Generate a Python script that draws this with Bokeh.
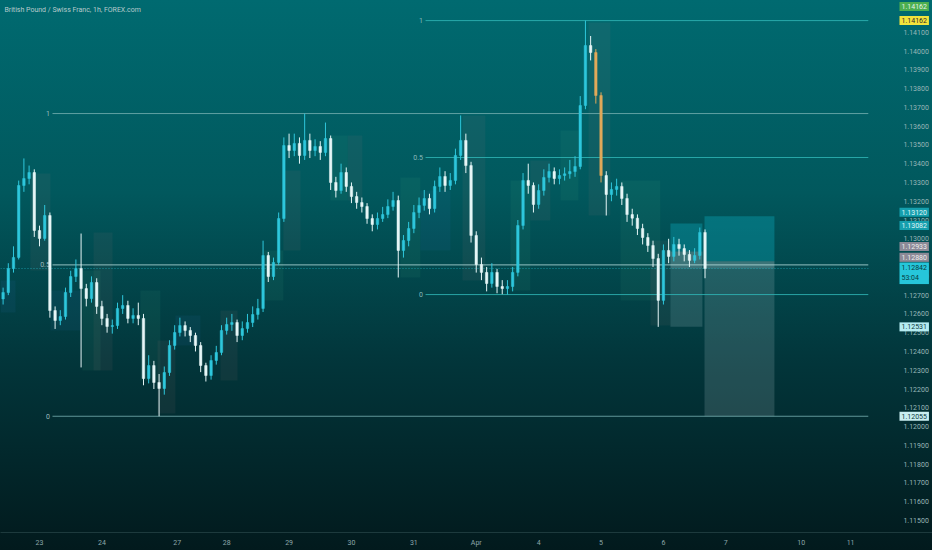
from bokeh.plotting import figure
from bokeh.models import ColumnDataSource, Label, FixedTicker
from bokeh.core.properties import value
from bokeh.embed import file_html
from bokeh.resources import INLINE

# ---------------- data ----------------
title_text = "British Pound / Swiss Franc, 1h, FOREX.com"

first_open = 1.12680
closes = [1.12714, 1.12842, 1.12901, 1.13284, 1.13321, 1.13353, 1.13044, 1.13002, 1.13124, 1.12618,
          1.12565, 1.12586, 1.12714, 1.12799, 1.12842, 1.12735, 1.12682, 1.12767, 1.12640, 1.12576,
          1.12533, 1.12538, 1.12629, 1.12645, 1.12576, 1.12592, 1.12576, 1.12256, 1.12325, 1.12235,
          1.12203, 1.12288, 1.12432, 1.12501, 1.12538, 1.12512, 1.12485, 1.12432, 1.12325, 1.12272,
          1.12352, 1.12395, 1.12512, 1.12544, 1.12554, 1.12485, 1.12522, 1.12554, 1.12597, 1.12629,
          1.12911, 1.12799, 1.12874, 1.13108, 1.13497, 1.13470, 1.13508, 1.13444, 1.13524, 1.13470,
          1.13492, 1.13460, 1.13534, 1.13300, 1.13257, 1.13353, 1.13279, 1.13225, 1.13193, 1.13172,
          1.13108, 1.13076, 1.13108, 1.13129, 1.13172, 1.13204, 1.12938, 1.12991, 1.13055, 1.13140,
          1.13178, 1.13215, 1.13161, 1.13279, 1.13332, 1.13284, 1.13311, 1.13444, 1.13524, 1.13390,
          1.13018, 1.12863, 1.12821, 1.12762, 1.12821, 1.12746, 1.12735, 1.12746, 1.12821, 1.13071,
          1.13311, 1.13284, 1.13183, 1.13257, 1.13327, 1.13358, 1.13321, 1.13337, 1.13346, 1.13358,
          1.13385, 1.13710, 1.14029, 1.13992, 1.13763, 1.13337, 1.13236, 1.13263, 1.13279, 1.13215,
          1.13129, 1.13110, 1.13055, 1.13007, 1.12964, 1.12895, 1.12672, 1.12938, 1.12906, 1.12970,
          1.12948, 1.12916, 1.12885, 1.12911, 1.13034, 1.12842]
highs = [1.12740, 1.12870, 1.12960, 1.13310, 1.13428, 1.13390, 1.13370, 1.13070, 1.13180, 1.13140,
         1.12640, 1.12620, 1.12740, 1.12830, 1.12890, 1.13028, 1.12760, 1.12800, 1.12790, 1.12670,
         1.12600, 1.12570, 1.12660, 1.12700, 1.12670, 1.12630, 1.12660, 1.12600, 1.12380, 1.12350,
         1.12280, 1.12320, 1.12460, 1.12540, 1.12580, 1.12560, 1.12530, 1.12500, 1.12450, 1.12340,
         1.12380, 1.12430, 1.12540, 1.12580, 1.12600, 1.12570, 1.12560, 1.12600, 1.12640, 1.12680,
         1.12990, 1.12930, 1.12900, 1.13140, 1.13540, 1.13560, 1.13560, 1.13540, 1.13667, 1.13560,
         1.13530, 1.13520, 1.13619, 1.13550, 1.13330, 1.13400, 1.13380, 1.13300, 1.13250, 1.13220,
         1.13190, 1.13130, 1.13140, 1.13170, 1.13210, 1.13250, 1.13230, 1.13020, 1.13090, 1.13180,
         1.13220, 1.13260, 1.13240, 1.13310, 1.13380, 1.13360, 1.13350, 1.13480, 1.13657, 1.13560,
         1.13410, 1.13040, 1.12900, 1.12850, 1.12870, 1.12840, 1.12780, 1.12780, 1.12850, 1.13100,
         1.13350, 1.13400, 1.13300, 1.13290, 1.13370, 1.13400, 1.13380, 1.13370, 1.13380, 1.13420,
         1.13440, 1.13760, 1.14162, 1.14080, 1.14010, 1.13780, 1.13360, 1.13300, 1.13320, 1.13300,
         1.13240, 1.13160, 1.13130, 1.13080, 1.13030, 1.12990, 1.12920, 1.12970, 1.13000, 1.13010,
         1.13000, 1.12970, 1.12940, 1.12950, 1.13060, 1.13050]
lows = [1.12650, 1.12700, 1.12820, 1.12890, 1.13250, 1.13290, 1.13010, 1.12960, 1.12990, 1.12580,
        1.12520, 1.12540, 1.12570, 1.12690, 1.12770, 1.12315, 1.12640, 1.12660, 1.12600, 1.12540,
        1.12500, 1.12495, 1.12520, 1.12600, 1.12550, 1.12550, 1.12540, 1.12220, 1.12230, 1.12200,
        1.12055, 1.12170, 1.12270, 1.12410, 1.12480, 1.12480, 1.12450, 1.12400, 1.12290, 1.12240,
        1.12250, 1.12330, 1.12380, 1.12490, 1.12510, 1.12450, 1.12460, 1.12500, 1.12530, 1.12570,
        1.12610, 1.12770, 1.12780, 1.12860, 1.13090, 1.13430, 1.13440, 1.13400, 1.13420, 1.13430,
        1.13440, 1.13420, 1.13440, 1.13260, 1.13220, 1.13240, 1.13250, 1.13190, 1.13160, 1.13140,
        1.13080, 1.13040, 1.13050, 1.13090, 1.13110, 1.13150, 1.12794, 1.12900, 1.12960, 1.13030,
        1.13110, 1.13150, 1.13130, 1.13140, 1.13250, 1.13250, 1.13260, 1.13290, 1.13420, 1.13350,
        1.12980, 1.12820, 1.12780, 1.12720, 1.12740, 1.12710, 1.12705, 1.12703, 1.12720, 1.12800,
        1.13050, 1.13240, 1.13140, 1.13160, 1.13230, 1.13300, 1.13290, 1.13290, 1.13310, 1.13320,
        1.13330, 1.13370, 1.13690, 1.13950, 1.13720, 1.13300, 1.13124, 1.13200, 1.13230, 1.13180,
        1.13090, 1.13070, 1.13020, 1.12970, 1.12930, 1.12850, 1.12531, 1.12650, 1.12870, 1.12880,
        1.12910, 1.12880, 1.12850, 1.12870, 1.12890, 1.12790]
hours = list(range(1, 2 * len(closes) + 1, 2))      # 2-hour steps on an hour axis
highlight_candles = [114, 115]                          # candles drawn orange

day_ticks = [15, 39, 68, 87, 111, 135, 159, 183, 207, 231, 255, 279, 308, 327]
day_labels = ["23", "24", "27", "28", "29", "30", "31", "Apr", "4", "5", "6", "7", "10", "11"]

price_ticks = [1.141, 1.140, 1.139, 1.138, 1.137, 1.136, 1.135, 1.134, 1.133, 1.132, 1.131,
               1.130, 1.129, 1.128, 1.127, 1.126, 1.125, 1.124, 1.123, 1.122, 1.121, 1.120,
               1.119, 1.118, 1.117, 1.116, 1.115]

# session / range shading boxes
zone_left = [11.5, 35.8, 31.5, 0.0, 19.2, 53.8, 60.4, 67.3, 84.6, 101.2, 108.8, 126.9, 133.5,
             153.8, 161.5, 177.7, 196.2, 203.8, 226.2, 215.4, 238.5, 250.0]
zone_right = [19.2, 43.1, 38.5, 5.8, 30.8, 61.5, 67.3, 76.9, 91.2, 108.8, 115.4, 133.5, 139.2,
              161.5, 173.1, 186.5, 203.8, 211.5, 234.6, 222.3, 253.8, 257.7]
zone_top = [1.13348, 1.13034, 1.12831, 1.12778, 1.12725, 1.12725, 1.12458, 1.12592, 1.12618,
            1.12938, 1.13364, 1.13550, 1.13550, 1.13326, 1.13257, 1.13657, 1.13311, 1.13417,
            1.14152, 1.13577, 1.13311, 1.12991]
zone_bottom = [1.12831, 1.12299, 1.12299, 1.12608, 1.12512, 1.12245, 1.12070, 1.12432, 1.12245,
               1.12672, 1.12938, 1.13204, 1.13204, 1.12794, 1.12938, 1.12778, 1.12725, 1.13098,
               1.13124, 1.13204, 1.12672, 1.12538]
zone_kind = ["down", "down", "up", "flat", "flat", "up", "down", "flat", "down", "up", "down",
             "up", "down", "up", "flat", "down", "up", "down", "down", "up", "up", "down"]

# fibonacci retracements
fib_levels = ["1", "0.5", "0"]
fib_left_start = 20.0
fib_left_prices = [1.13667, 1.12861, 1.12055]
fib_right_start = 163.5
fib_right_prices = [1.14162, 1.13433, 1.12703]

# long-position tools
pos_left = [270.8, 257.7]
pos_right = [297.7, 270.0]
pos_target = [1.13120, 1.13082]
pos_entry = [1.12880, 1.12933]
pos_stop = [1.12055, 1.12531]
last_price = 1.12842
countdown = "53:04"

# price-scale tags
tag_prices = [1.14162, 1.14162, 1.13120, 1.13082, 1.12933, 1.12880, 1.12531, 1.12055]
tag_texts = ["1.14162", "1.14162", "1.13120", "1.13082", "1.12933", "1.12880", "1.12531", "1.12055"]

# ---------------- figure ----------------
Y0, Y1 = 1.11436, 1.14269
X0, X1 = 0, 358.5          # whole width, price scale included
CHART_END = 333.8          # where the candle pane ends and the price scale begins
SCALE_X = 347.3
TAG_X = 345.8
FONT = "Roboto"

p = figure(width=932, height=550, output_backend="svg", toolbar_location=None,
           x_range=(X0, X1), y_range=(Y0, Y1), y_axis_location=None,
           min_border_left=0, min_border_top=0, min_border_right=0, min_border_bottom=18,
           styles={"background": "linear-gradient(to bottom, #006a70 0%, #01585d 35%, #02363b 65%, #021a1d 100%)"})
p.background_fill_alpha = 0
p.border_fill_alpha = 0
p.outline_line_color = None
p.grid.visible = False

# shaded zones
zone_colors = {"down": "#c08080", "up": "#5fbf8a", "flat": "#3f7fd8"}
zsrc = ColumnDataSource(dict(left=zone_left, right=zone_right, top=zone_top, bottom=zone_bottom,
                             color=[zone_colors[k] for k in zone_kind]))
p.quad(left="left", right="right", top="top", bottom="bottom", source=zsrc,
       fill_color="color", fill_alpha=0.08, line_color=None)

# position tools
for i in range(len(pos_left)):
    p.quad(left=[pos_left[i]], right=[pos_right[i]], top=[pos_target[i]], bottom=[pos_entry[i]],
           fill_color="#0aa0b0", fill_alpha=0.42, line_color=None)
    p.quad(left=[pos_left[i]], right=[pos_right[i]], top=[pos_entry[i]], bottom=[pos_stop[i]],
           fill_color="#b8cfd1", fill_alpha=0.18, line_color=None)
    p.quad(left=[pos_left[i]], right=[pos_right[i]], top=[max(pos_entry[i], last_price)],
           bottom=[min(pos_entry[i], last_price)],
           fill_color="#d0e4e6", fill_alpha=0.15, line_color=None)

# fib lines
for price, lvl in zip(fib_left_prices, fib_levels):
    col = "#b8dede" if lvl == "0.5" else "#78b0b2"
    p.segment(x0=[fib_left_start], x1=[CHART_END], y0=[price], y1=[price], line_color=col,
              line_alpha=0.8, line_width=1)
p.text(x=[fib_left_start - 1] * 3, y=fib_left_prices, text=fib_levels, text_align="right",
       text_baseline="middle", text_color="#9cbcbe", text_font=value(FONT), text_font_size="7px")
for price in fib_right_prices:
    p.segment(x0=[fib_right_start], x1=[CHART_END], y0=[price], y1=[price], line_color="#2fb5b5",
              line_alpha=0.85, line_width=1)
p.text(x=[fib_right_start - 1] * 3, y=fib_right_prices, text=fib_levels, text_align="right",
       text_baseline="middle", text_color="#8ab9bb", text_font=value(FONT), text_font_size="7px")

# last price line
p.segment(x0=[X0], x1=[CHART_END], y0=[last_price], y1=[last_price], line_color="#26c6da",
          line_alpha=0.6, line_dash="1 2", line_width=1)

# candles
opens = [first_open] + closes[:-1]
colors = []
for i, (o, c) in enumerate(zip(opens, closes)):
    if i in highlight_candles:
        colors.append("#e2a95a")
    elif c >= o:
        colors.append("#2ec7dc")
    else:
        colors.append("#e6f6f7")
csrc = ColumnDataSource(dict(x=hours, o=opens, c=closes, h=highs, l=lows,
                             top=[max(a, b) for a, b in zip(opens, closes)],
                             bottom=[min(a, b) for a, b in zip(opens, closes)], color=colors))
p.segment(x0="x", x1="x", y0="l", y1="h", line_color="color", line_width=1, source=csrc)
p.vbar(x="x", width=0.95, top="top", bottom="bottom", fill_color="color", line_color="color",
       line_width=0.5, source=csrc)

# price scale (right)
p.text(x=[SCALE_X] * len(price_ticks), y=price_ticks, text=[f"{t:.5f}" for t in price_ticks],
       text_align="left", text_baseline="middle", text_color="#9ab6b8",
       text_font=value(FONT), text_font_size="7px")

# time axis
xax = p.xaxis[0]
xax.ticker = FixedTicker(ticks=day_ticks)
xax.major_label_overrides = {t: l for t, l in zip(day_ticks, day_labels)}
xax.axis_line_color = "#1d3a3d"
xax.major_tick_line_color = None
xax.minor_tick_line_color = None
xax.major_tick_out = 0
xax.minor_tick_out = 0
xax.axis_label_standoff = 0
xax.major_label_standoff = 6
xax.major_label_text_color = "#8da7aa"
xax.major_label_text_font = FONT
xax.major_label_text_font_size = "7px"

# title
p.add_layout(Label(x=1.5, y=1.14221, text=title_text, text_color="#b7cacc",
                   text_font=FONT, text_font_size="7px", text_baseline="middle"))

# price-scale tags
tag_styles = [("#4caf50", "#e8f5e9", 14), ("#f2e33c", "#2b2b2b", 0),
              ("#159fad", "#e0f7fa", 4), ("#159fad", "#e0f7fa", -2),
              ("#8c8a97", "#eeeeee", 5), ("#8c8a97", "#eeeeee", 4),
              ("#b5ecf2", "#0d3b40", 0), ("#c9eef1", "#0d3b40", 0)]
for price, txt, (bg, fg, off) in zip(tag_prices, tag_texts, tag_styles):
    p.add_layout(Label(x=TAG_X, y=price, text=txt, y_offset=off,
                       text_color=fg, text_font=FONT, text_font_size="7px", text_baseline="middle",
                       background_fill_color=bg, background_fill_alpha=1.0, padding=2))
p.add_layout(Label(x=TAG_X, y=last_price, text=f"{last_price:.5f}\n{countdown}",
                   y_offset=6, text_color="#063b40", text_font=FONT, text_font_size="7px",
                   text_baseline="top", background_fill_color="#26c6da", background_fill_alpha=1.0,
                   padding=2))

open("out.html", "w").write(file_html(p, INLINE))
